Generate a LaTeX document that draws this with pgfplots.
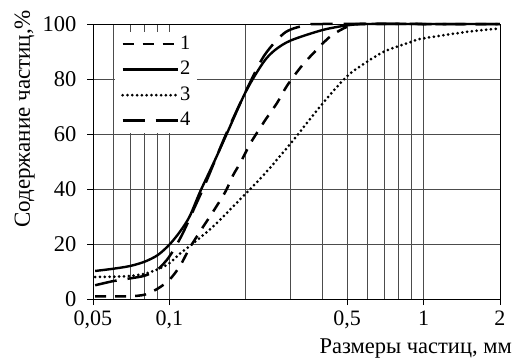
\documentclass[border=0pt]{standalone}
\usepackage{fontspec}
\setmainfont{Liberation Serif}
\usepackage{pgfplots}
\usepackage{pgfplotstable}
\pgfplotsset{compat=1.18}

\pgfplotstableread{
d v
0.051 1
0.06 1
0.07 1
0.08 1.6
0.09 3.8
0.1 7
0.11 12
0.12 18.5
0.134 25.5
0.15 32.4
0.166 39
0.178 45
0.19 49.5
0.2 53.5
0.211 57.5
0.238 65
0.266 71.5
0.29 77.5
0.33 84.5
0.374 90
0.43 95.5
0.5 99
0.56 100
1 100
2 100
}\curveA

\pgfplotstableread{
d v
0.051 10.2
0.06 11
0.07 12
0.08 13.6
0.09 16
0.1 19.8
0.11 24.5
0.12 30
0.132 39
0.151 50.5
0.168 60
0.2 75.5
0.234 86
0.26 90.5
0.3 94
0.4 97.8
0.5 99.5
0.6 100
1 100
2 100
}\curveB

\pgfplotstableread{
d v
0.051 8
0.06 8.1
0.07 8.4
0.08 9.2
0.09 10.8
0.1 13
0.11 16.5
0.126 20.8
0.151 27
0.2 38.4
0.237 45.5
0.3 56.6
0.4 71
0.5 81
0.6 86.3
0.7 90
0.8 92
0.9 93.6
1 94.8
1.5 97.2
2 98.4
}\curveC

\pgfplotstableread{
d v
0.051 5
0.06 6.5
0.07 7.5
0.08 8.5
0.09 10.8
0.1 15.5
0.112 23.3
0.126 33.6
0.14 43
0.168 60.5
0.207 78.5
0.238 89
0.286 97
0.35 99.7
0.4 100
1 100
2 100
}\curveD

\begin{document}
\begin{tikzpicture}
\begin{axis}[
  at={(0,0)}, anchor=south west,
  scale only axis, width=407pt, height=275pt,
  xmode=log, xmin=0.05, xmax=2, ymin=0, ymax=100,
  xtick={0.05,0.1,0.5,1,2},
  xticklabels={{0,05},{0,1},{0,5},{1},{2}},
  minor xtick={0.06,0.07,0.08,0.09,0.2,0.3,0.4,0.6,0.7,0.8,0.9},
  ytick={0,20,40,60,80,100},
  xtick pos=bottom, ytick pos=left, tick align=outside,
  major tick length=6pt, minor tick length=0pt,
  grid=both,
  major grid style={black!70, line width=0.9pt},
  minor grid style={black!70, line width=0.9pt},
  axis line style={black, line width=0.9pt},
  tick style={black, line width=0.9pt},
  /pgf/number format/assume math mode=true,
  ticklabel style={font=\fontsize{22.5}{26}\selectfont},
  xticklabel style={anchor=north, inner sep=0pt, text depth=0pt, yshift=-6pt, font=\fontsize{22}{26}\selectfont},
  yticklabel style={xshift=-7pt},
  xlabel={Размеры частиц, мм},
  ylabel={Содержание частиц,\%},
  label style={font=\fontsize{23}{27}\selectfont},
  xlabel style={at={(axis description cs:1.0295,-0.1964)}, anchor=base east, inner sep=0pt, font=\fontsize{22.5}{26}\selectfont},
  ylabel style={at={(axis description cs:-0.155,0.655)}, anchor=base},
  clip=false,
  legend image code/.code={\draw[#1] (0pt,0pt) -- (55pt,0pt);},
  legend style={at={(axis description cs:0.054,0.971)}, anchor=north west,
    fill=white, draw=none, font=\fontsize{20.5}{24}\selectfont,
    nodes={inner sep=1pt, text height=14pt, text depth=4pt},
    row sep=5.5pt, inner xsep=6pt, inner ysep=2pt},
  legend cell align=left,
]
\addplot[black, line width=2.5pt, dash pattern=on 11pt off 9pt, smooth, tension=0.5] table[x=d,y=v]{\curveA};
\addlegendentry{1}
\addplot[black, line width=2.4pt, smooth, tension=0.5] table[x=d,y=v]{\curveB};
\addlegendentry{2}
\addplot[black, line width=3pt, line cap=round, dash pattern=on 0pt off 4.8pt, smooth, tension=0.5] table[x=d,y=v]{\curveC};
\addlegendentry{3}
\addplot[black, line width=2.5pt, dash pattern=on 22pt off 11pt, smooth, tension=0.5] table[x=d,y=v]{\curveD};
\addlegendentry{4}
\end{axis}
\pgfresetboundingbox
\useasboundingbox (-93pt,-58pt) rectangle (420pt,299pt);
\end{tikzpicture}
\end{document}
